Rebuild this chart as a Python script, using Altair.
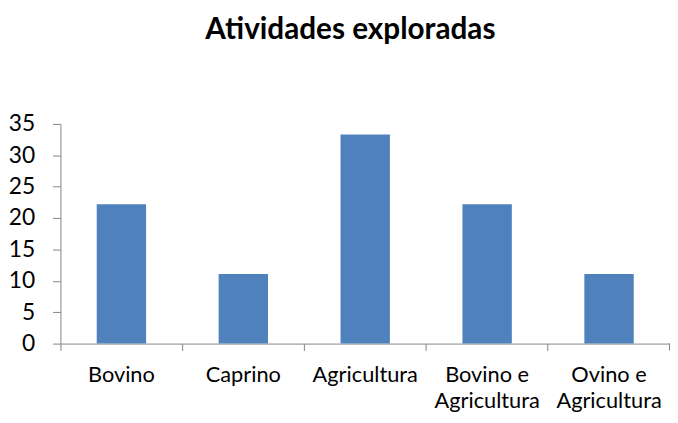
import altair as alt
import pandas as pd

categories = ["Bovino", "Caprino", "Agricultura", "Bovino e|Agricultura", "Ovino e|Agricultura"]
values = [22.2, 11.1, 33.3, 22.2, 11.1]
y_ticks = [0, 5, 10, 15, 20, 25, 30, 35]

df = pd.DataFrame({"cat": categories, "val": values})

axis_gray = "#868686"
font = "Lato"

bars = alt.Chart(df).mark_bar(color="#4F81BD", width=alt.RelativeBandSize(0.405)).encode(
    x=alt.X("cat:N", sort=categories, title=None,
            scale=alt.Scale(paddingInner=0, paddingOuter=0),
            axis=alt.Axis(labelAngle=0, bandPosition=0, tickSize=7, tickColor=axis_gray,
                          domainColor=axis_gray, labelPadding=14, labelFontSize=22,
                          labelFont=font, labelColor="#000000",
                          labelExpr="split(datum.label, '|')", labelLineHeight=27,
                          labelBaseline="top")),
    y=alt.Y("val:Q", title=None, scale=alt.Scale(domain=[0, 35], nice=False),
            axis=alt.Axis(values=y_ticks, grid=False, tickSize=8, tickColor=axis_gray,
                          domainColor=axis_gray, labelPadding=18, labelFontSize=23,
                          labelFont=font, labelColor="#000000")),
)

end_tick = alt.Chart(df).mark_rule(color=axis_gray).encode(
    x=alt.value(616), y=alt.value(222), y2=alt.value(229)
)

chart = alt.layer(bars, end_tick).properties(
    width=616, height=222,
    title=alt.Title("Atividades exploradas", fontSize=30, font=font, fontWeight="bold",
                    color="#000000", anchor="middle", offset=69, dx=-15),
    autosize=alt.AutoSizeParams(type="none"),
    padding={"left": 53, "top": 115, "right": 0, "bottom": 68},
).configure_view(stroke=None)

chart.save("out.html", embed_options={"renderer": "svg", "actions": False})
